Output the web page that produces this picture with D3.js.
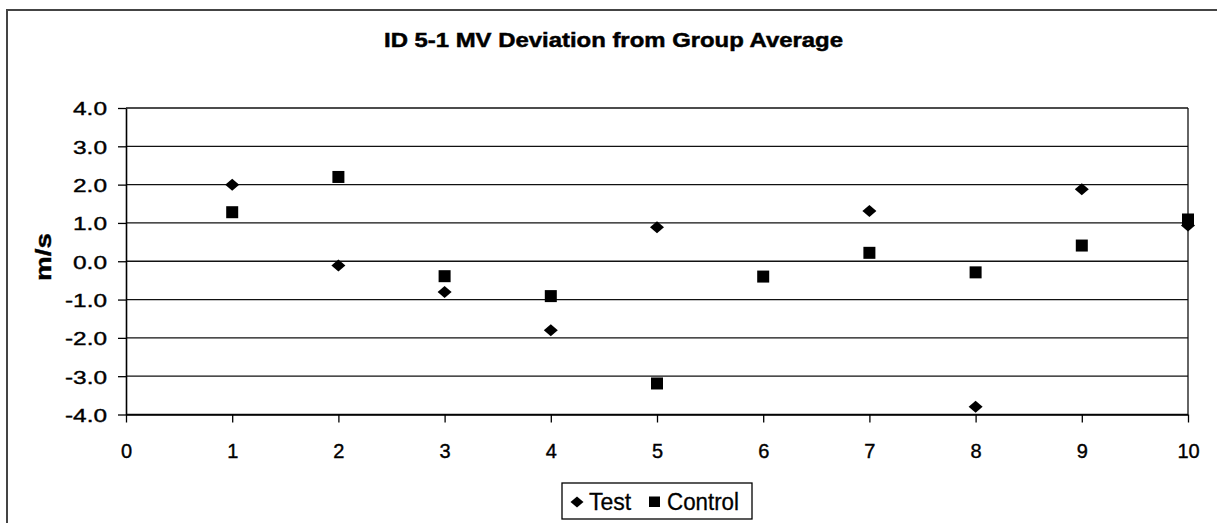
<!DOCTYPE html>
<html>
<head>
<meta charset="utf-8">
<script src="https://cdn.jsdelivr.net/npm/d3@7"></script>
<style>
  body { margin: 0; background: #fff; }
  svg { display: block; font-family: Arial, "Liberation Sans", sans-serif; }
</style>
</head>
<body>
<div id="chart"></div>
<script>
"use strict";

//
// Data
//
var categories = [1, 2, 3, 4, 5, 6, 7, 8, 9, 10];
var testValues = [2.0, -0.11, -0.80, -1.80, 0.89, null, 1.31, -3.80, 1.88, 0.93];
var controlValues = [1.28, 2.20, -0.39, -0.91, -3.19, -0.40, 0.22, -0.29, 0.41, 1.09];
var xTicks = [0, 1, 2, 3, 4, 5, 6, 7, 8, 9, 10];
var yTicks = [-4, -3, -2, -1, 0, 1, 2, 3, 4];
var seriesNames = ["Test", "Control"];

//
// Setup Variables
//
var width = 1217, height = 523;
var plot = { left: 126, right: 1188, top: 108, bottom: 414.5 };

var svg = d3.select("#chart").append("svg")
	.attr("width", width)
	.attr("height", height);

var x = d3.scaleLinear().domain([0, 10]).range([plot.left, plot.right]);
var y = d3.scaleLinear().domain([-4, 4]).range([plot.bottom, plot.top]);

// scanned text looks heavier than a clean render
function ink(sel, w) {
	sel.style("stroke", "#000").style("stroke-width", w + "px").style("paint-order", "stroke");
}

// outer frame (runs off the right and bottom edges, as in the scan)
svg.append("rect")
	.attr("x", 7).attr("y", 10)
	.attr("width", 1260).attr("height", 560)
	.attr("fill", "none")
	.attr("stroke", "#444")
	.attr("stroke-width", 2);

//
// Title
//
svg.append("text")
	.attr("x", 384).attr("y", 47)
	.attr("text-anchor", "start")
	.style("font-size", "21px")
	.style("font-weight", "bold")
	.attr("textLength", 459)
	.attr("lengthAdjust", "spacingAndGlyphs")
	.text("ID 5-1 MV Deviation from Group Average")
	.call(ink, 0.5);

//
// Grid lines
//
svg.append("g")
	.selectAll("line")
	.data(yTicks)
	.enter()
	.append("line")
	.attr("x1", plot.left).attr("x2", plot.right)
	.attr("y1", function(d) { return y(d); })
	.attr("y2", function(d) { return y(d); })
	.attr("stroke", "#111")
	.attr("stroke-width", 1.3);

// right edge of plot area
svg.append("line")
	.attr("x1", plot.right).attr("x2", plot.right)
	.attr("y1", plot.top).attr("y2", plot.bottom)
	.attr("stroke", "#111")
	.attr("stroke-width", 1.3);

var fmtY = function(d) { return d3.format(".1f")(d).replace("\u2212", "-"); };

//
// Y-Axis
//
var yAxis = svg.append("g")
	.attr("transform", "translate(" + plot.left + ",0)")
	.call(d3.axisLeft(y).tickValues(yTicks).tickSize(8).tickSizeOuter(0).tickFormat(fmtY));

yAxis.attr("font-size", null).attr("font-family", null);
yAxis.select(".domain").attr("stroke", "#000").attr("stroke-width", 1.6);
yAxis.selectAll(".tick line").attr("stroke", "#000").attr("stroke-width", 1.3);

var labelLen = function(d) { return d < 0 ? 42 : 34; };
yAxis.selectAll(".tick text")
	.style("font-size", "19px")
	.attr("fill", "#000")
	.attr("text-anchor", "start")
	.attr("x", function(d) { return -19 - labelLen(d); })
	.attr("dy", "0.36em")
	.attr("textLength", labelLen)
	.attr("lengthAdjust", "spacingAndGlyphs")
	.call(ink, 0.4);

//
// X-Axis
//
var xAxis = svg.append("g")
	.attr("transform", "translate(0," + plot.bottom + ")")
	.call(d3.axisBottom(x).tickValues(xTicks).tickSize(8).tickSizeOuter(0).tickFormat(d3.format("d")));

xAxis.attr("font-size", null).attr("font-family", null);
xAxis.select(".domain").attr("stroke", "#000").attr("stroke-width", 1.6);
xAxis.selectAll(".tick line").attr("stroke", "#000").attr("stroke-width", 1.3);
xAxis.selectAll(".tick text")
	.style("font-size", "20px")
	.attr("fill", "#000")
	.attr("y", 43)
	.attr("dy", 0)
	.call(ink, 0.4);

//
// Axis title
//
svg.append("text")
	.attr("transform", "translate(51,257) rotate(-90)")
	.attr("x", -24)
	.attr("text-anchor", "start")
	.style("font-size", "22px")
	.style("font-weight", "bold")
	.attr("textLength", 48)
	.attr("lengthAdjust", "spacingAndGlyphs")
	.text("m/s")
	.call(ink, 0.4);

//
// Markers
//
function diamond(w, h) {
	return "M0," + (-h / 2) + "L" + (w / 2) + ",0L0," + (h / 2) + "L" + (-w / 2) + ",0Z";
}

var controlData = categories.map(function(c, i) { return { x: c, v: controlValues[i] }; })
	.filter(function(d) { return d.v != null; });
var testData = categories.map(function(c, i) { return { x: c, v: testValues[i] }; })
	.filter(function(d) { return d.v != null; });

svg.append("g")
	.selectAll("rect")
	.data(controlData)
	.enter()
	.append("rect")
	.attr("x", function(d) { return x(d.x) - 6; })
	.attr("y", function(d) { return y(d.v) - 6; })
	.attr("width", 12)
	.attr("height", 12)
	.attr("fill", "#000");

svg.append("g")
	.selectAll("path")
	.data(testData)
	.enter()
	.append("path")
	.attr("d", diamond(14, 12))
	.attr("transform", function(d) { return "translate(" + x(d.x) + "," + y(d.v) + ")"; })
	.attr("fill", "#000");

//
// Legend
//
var legend = svg.append("g");
legend.append("rect")
	.attr("x", 562).attr("y", 483)
	.attr("width", 190).attr("height", 36)
	.attr("fill", "#fff")
	.attr("stroke", "#000")
	.attr("stroke-width", 1.3);

legend.append("path")
	.attr("d", diamond(13, 11))
	.attr("transform", "translate(577,502)")
	.attr("fill", "#000");
legend.append("text")
	.attr("x", 589).attr("y", 510)
	.style("font-size", "23px")
	.text(seriesNames[0])
	.call(ink, 0.3);

legend.append("rect")
	.attr("x", 649).attr("y", 496.5)
	.attr("width", 11).attr("height", 10.5)
	.attr("fill", "#000");
legend.append("text")
	.attr("x", 667).attr("y", 510)
	.style("font-size", "23px")
	.attr("textLength", 72)
	.attr("lengthAdjust", "spacingAndGlyphs")
	.text(seriesNames[1])
	.call(ink, 0.3);
</script>
</body>
</html>
